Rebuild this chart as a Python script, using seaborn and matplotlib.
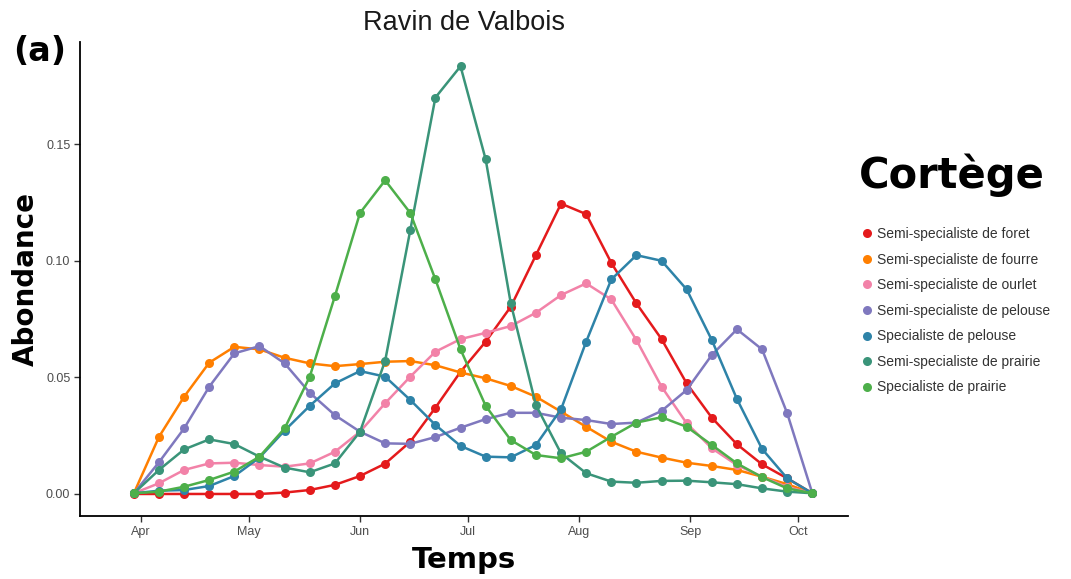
import numpy as np
import pandas as pd
import matplotlib
matplotlib.use("Agg")
import matplotlib.pyplot as plt
from matplotlib.lines import Line2D
import seaborn as sns

# ---- data ----
dates = pd.date_range("2015-03-30", periods=28, freq="7D")
categories = [
    "Semi-specialiste de foret",
    "Semi-specialiste de fourre",
    "Semi-specialiste de ourlet",
    "Semi-specialiste de pelouse",
    "Specialiste de pelouse",
    "Semi-specialiste de prairie",
    "Specialiste de prairie",
]
foret = [0, 0, 0, 0, 0, 0, 0.0006, 0.0017, 0.0039, 0.0077, 0.013, 0.0224, 0.037, 0.0524,
         0.0653, 0.0803, 0.1024, 0.1245, 0.120, 0.0991, 0.0817, 0.0664, 0.0474, 0.0327,
         0.0213, 0.0127, 0.0067, 0.0003]
fourre = [0.0003, 0.0245, 0.0417, 0.0563, 0.0631, 0.062, 0.0584, 0.056, 0.0548, 0.0557,
          0.0567, 0.057, 0.0552, 0.0521, 0.0496, 0.0463, 0.0417, 0.0353, 0.0288, 0.0224,
          0.0181, 0.0156, 0.0134, 0.012, 0.0103, 0.0074, 0.0042, 0.0003]
ourlet = [0.0003, 0.0046, 0.0103, 0.0131, 0.0134, 0.0124, 0.0117, 0.0131, 0.0181, 0.0267,
          0.0389, 0.0503, 0.061, 0.0664, 0.0691, 0.072, 0.0777, 0.0853, 0.0903, 0.0834,
          0.066, 0.046, 0.0303, 0.0196, 0.0124, 0.0074, 0.003, 0.0003]
semi_pelouse = [0.0003, 0.0136, 0.0281, 0.046, 0.0603, 0.0634, 0.056, 0.0434, 0.0338, 0.0267,
                0.0217, 0.0215, 0.0244, 0.0284, 0.0321, 0.0348, 0.0348, 0.0327, 0.0317, 0.030,
                0.0306, 0.0356, 0.0446, 0.0596, 0.0706, 0.062, 0.0346, 0.0003]
spec_pelouse = [0.0003, 0.0014, 0.0017, 0.0034, 0.0077, 0.0156, 0.0272, 0.0378, 0.0474, 0.0527,
                0.0503, 0.0403, 0.0296, 0.0206, 0.016, 0.0157, 0.021, 0.0363, 0.0653, 0.092,
                0.1024, 0.100, 0.0877, 0.066, 0.0407, 0.0193, 0.0067, 0.0003]
semi_prairie = [0.0003, 0.0103, 0.0191, 0.0234, 0.0214, 0.016, 0.0113, 0.0093, 0.0131, 0.0267,
                0.0571, 0.1131, 0.170, 0.1834, 0.1435, 0.0817, 0.0381, 0.0174, 0.0089, 0.0053,
                0.0048, 0.0056, 0.0057, 0.005, 0.0042, 0.0024, 0.001, 0.0003]
spec_prairie = [0.0003, 0.001, 0.0031, 0.006, 0.0096, 0.016, 0.0281, 0.0503, 0.0848, 0.1205,
                0.1345, 0.1205, 0.092, 0.062, 0.0378, 0.0231, 0.0167, 0.0153, 0.0181, 0.0245,
                0.0306, 0.0329, 0.0288, 0.021, 0.0131, 0.0072, 0.0024, 0.0003]
series = [foret, fourre, ourlet, semi_pelouse, spec_pelouse, semi_prairie, spec_prairie]
colors = ["#E41A1C", "#FF7F00", "#F282A8", "#7F78BE", "#2E83A8", "#3A9479", "#4DAF4A"]
month_ticks = pd.to_datetime(["2015-04-01", "2015-05-01", "2015-06-01", "2015-07-01",
                              "2015-08-01", "2015-09-01", "2015-10-01"])
month_labels = ["Apr", "May", "Jun", "Jul", "Aug", "Sep", "Oct"]

df = pd.concat([pd.DataFrame({"Temps": dates, "Abondance": v, "Cortege": c})
                for c, v in zip(categories, series)], ignore_index=True)

sns.set_style("white")
plt.rcParams["font.family"] = ["Liberation Sans", "DejaVu Sans"]

fig = plt.figure(figsize=(10.71, 5.79), dpi=100)
ax = fig.add_axes([0.0747, 0.109, 0.7173, 0.818])

sns.lineplot(data=df, x="Temps", y="Abondance", hue="Cortege", hue_order=categories,
             palette=colors, marker="o", markersize=6.5, markeredgewidth=0,
             linewidth=1.8, legend=False, ax=ax)

ax.set_xlim(pd.Timestamp("2015-03-15"), pd.Timestamp("2015-10-15"))
ax.set_ylim(-0.0094, 0.1937)
ax.set_xticks(month_ticks)
ax.set_xticklabels(month_labels)
ax.set_yticks([0.0, 0.05, 0.10, 0.15])
ax.set_yticklabels(["0.00", "0.05", "0.10", "0.15"])
ax.tick_params(axis="both", which="major", direction="out", length=4, width=1,
               color="#333333", labelsize=9, labelcolor="#4D4D4D", pad=3,
               bottom=True, left=True)
for s in ["top", "right"]:
    ax.spines[s].set_visible(False)
for s in ["left", "bottom"]:
    ax.spines[s].set_color("black")
    ax.spines[s].set_linewidth(1.3)

bold_font = ["DejaVu Sans"]
ax.set_xlabel("Temps", fontsize=21, fontweight="bold", family=bold_font, labelpad=6,
              color="black")
ax.set_ylabel("Abondance", fontsize=20, fontweight="bold", family=bold_font, labelpad=4,
              color="black")
ax.set_title("Ravin de Valbois", fontsize=19.5, pad=9, color="#1A1A1A")
fig.text(0.012, 0.895, "(a)", fontsize=24, fontweight="bold", family=bold_font,
         color="black")

handles = [Line2D([], [], marker="o", ls="", color=c, markersize=6.5, markeredgewidth=0)
           for c in colors]
leg = fig.legend(handles, categories, title="Cortège", loc="upper left",
                 bbox_to_anchor=(0.797, 0.745), frameon=False, fontsize=10,
                 labelspacing=0.83, handletextpad=0.1, handlelength=1.2,
                 borderaxespad=0)
leg.get_title().set_fontsize(30)
leg.get_title().set_fontweight("bold")
leg.get_title().set_family(bold_font)
leg.get_title().set_color("black")
for t in leg.get_texts():
    t.set_color("#333333")
leg._legend_box.align = "left"
leg._legend_box.sep = 22

fig.savefig("out.png", dpi=100)
